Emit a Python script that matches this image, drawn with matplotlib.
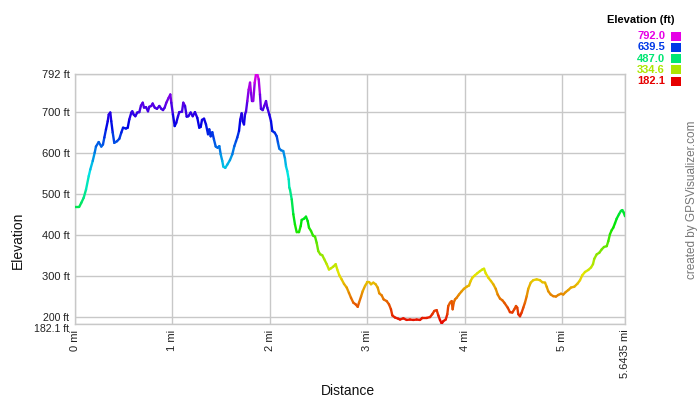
import colorsys
import numpy as np
import matplotlib
matplotlib.use("Agg")
import matplotlib.pyplot as plt
from matplotlib.collections import LineCollection
from matplotlib.patches import Rectangle

plt.rcParams['font.family'] = ['Liberation Sans', 'DejaVu Sans']

# ---------------- data ----------------
distance_mi = [
    0.000, 0.044, 0.065, 0.089, 0.113, 0.141, 0.157, 0.182, 0.202, 0.215,
    0.243, 0.270, 0.287, 0.301, 0.318, 0.336, 0.346, 0.362, 0.372, 0.387,
    0.403, 0.431, 0.455, 0.475, 0.493, 0.523, 0.541, 0.557, 0.578, 0.588,
    0.602, 0.619, 0.639, 0.660, 0.677, 0.695, 0.708, 0.729, 0.749, 0.762,
    0.783, 0.797, 0.818, 0.841, 0.865, 0.886, 0.903, 0.920, 0.937, 0.961,
    0.978, 0.988, 1.005, 1.023, 1.039, 1.057, 1.070, 1.098, 1.111, 1.129,
    1.146, 1.163, 1.187, 1.208, 1.231, 1.255, 1.275, 1.290, 1.303, 1.324,
    1.344, 1.365, 1.378, 1.392, 1.409, 1.426, 1.444, 1.464, 1.481, 1.495,
    1.511, 1.522, 1.542, 1.563, 1.590, 1.614, 1.635, 1.652, 1.665, 1.683,
    1.696, 1.710, 1.721, 1.734, 1.744, 1.755, 1.768, 1.782, 1.796, 1.806,
    1.816, 1.829, 1.844, 1.857, 1.871, 1.885, 1.898, 1.908, 1.926, 1.942,
    1.960, 1.973, 1.994, 2.011, 2.024, 2.049, 2.070, 2.083, 2.096, 2.114,
    2.137, 2.155, 2.165, 2.178, 2.193, 2.199, 2.206, 2.224, 2.240, 2.257,
    2.275, 2.298, 2.316, 2.326, 2.350, 2.370, 2.388, 2.401, 2.422, 2.442,
    2.463, 2.480, 2.496, 2.517, 2.537, 2.558, 2.583, 2.606, 2.627, 2.650,
    2.675, 2.691, 2.712, 2.736, 2.760, 2.788, 2.811, 2.832, 2.856, 2.880,
    2.901, 2.914, 2.935, 2.952, 2.976, 2.999, 3.020, 3.037, 3.061, 3.085,
    3.106, 3.122, 3.147, 3.167, 3.198, 3.222, 3.242, 3.256, 3.283, 3.317,
    3.335, 3.369, 3.403, 3.437, 3.471, 3.506, 3.540, 3.564, 3.609, 3.643,
    3.666, 3.687, 3.711, 3.728, 3.745, 3.763, 3.779, 3.804, 3.820, 3.830,
    3.848, 3.865, 3.875, 3.886, 3.899, 3.916, 3.940, 3.968, 3.991, 4.019,
    4.043, 4.060, 4.077, 4.104, 4.128, 4.155, 4.179, 4.197, 4.214, 4.241,
    4.268, 4.292, 4.317, 4.337, 4.361, 4.385, 4.405, 4.440, 4.463, 4.487,
    4.508, 4.525, 4.538, 4.549, 4.566, 4.583, 4.600, 4.617, 4.635, 4.651,
    4.676, 4.702, 4.737, 4.771, 4.795, 4.823, 4.840, 4.856, 4.881, 4.907,
    4.935, 4.959, 4.987, 5.010, 5.035, 5.062, 5.089, 5.123, 5.158, 5.182,
    5.205, 5.233, 5.267, 5.295, 5.315, 5.328, 5.353, 5.380, 5.404, 5.428,
    5.456, 5.472, 5.489, 5.507, 5.523, 5.541, 5.558, 5.582, 5.602, 5.616,
    5.630, 5.6435,
]
elevation_ft = [
    468, 468, 478, 490, 510, 543, 559, 580, 600, 615,
    626, 615, 620, 637, 657, 677, 693, 698, 677, 649,
    624, 628, 634, 649, 661, 659, 661, 681, 698, 701,
    693, 689, 698, 699, 715, 722, 710, 711, 701, 712,
    714, 720, 710, 707, 714, 707, 704, 710, 722, 734,
    742, 722, 693, 665, 673, 689, 699, 700, 722, 714,
    688, 689, 698, 689, 699, 685, 661, 663, 680, 683,
    669, 645, 657, 640, 650, 632, 615, 612, 616, 596,
    580, 566, 563, 571, 582, 596, 616, 628, 637, 653,
    681, 696, 677, 669, 693, 701, 726, 754, 771, 746,
    726, 726, 771, 791, 791, 779, 742, 707, 704, 714,
    726, 710, 693, 677, 653, 649, 640, 624, 610, 606,
    604, 585, 567, 555, 535, 515, 510, 486, 450, 425,
    406, 406, 421, 436, 439, 444, 433, 417, 409, 398,
    395, 380, 360, 352, 350, 340, 328, 315, 318, 322,
    328, 315, 301, 291, 280, 271, 258, 246, 234, 230,
    224, 234, 249, 262, 275, 284, 284, 279, 283, 279,
    271, 257, 252, 242, 238, 230, 218, 203, 198, 195,
    193, 196, 192, 193, 192, 193, 192, 197, 197, 199,
    206, 214, 216, 203, 192, 183, 189, 193, 206, 226,
    234, 238, 218, 234, 242, 246, 254, 262, 268, 273,
    276, 287, 295, 301, 306, 311, 315, 317, 306, 295,
    287, 279, 268, 254, 244, 240, 234, 222, 211, 210,
    218, 226, 222, 206, 201, 210, 222, 234, 250, 268,
    283, 289, 291, 289, 284, 283, 273, 262, 254, 250,
    249, 253, 256, 254, 260, 265, 271, 273, 281, 289,
    301, 309, 314, 320, 328, 341, 352, 356, 364, 370,
    372, 384, 401, 411, 417, 428, 439, 450, 458, 460,
    454, 445,
]

ytick_vals = [182.1, 200, 300, 400, 500, 600, 700, 792]
ytick_labels = ["182.1 ft", "200 ft", "300 ft", "400 ft", "500 ft",
                "600 ft", "700 ft", "792 ft"]
xtick_vals = [0, 1, 2, 3, 4, 5, 5.6435]
xtick_labels = ["0 mi", "1 mi", "2 mi", "3 mi", "4 mi", "5 mi", "5.6435 mi"]
legend_vals = [792.0, 639.5, 487.0, 334.6, 182.1]

ELEV_MIN, ELEV_MAX = 182.1, 792.0
DIST_MAX = 5.6435


def elev_color(e):
    t = (e - ELEV_MIN) / (ELEV_MAX - ELEV_MIN)
    t = min(max(t, 0.0), 1.0)
    return colorsys.hsv_to_rgb(t * 300.0 / 360.0, 1.0, 0.9)


W, H = 700, 400
fig = plt.figure(figsize=(W / 100, H / 100), dpi=100)
fig.patch.set_facecolor('white')

left, right, top, bottom = 75, 625, 74, 324
ax = fig.add_axes([left / W, 1 - bottom / H, (right - left) / W, (bottom - top) / H])
ax.set_xlim(0, DIST_MAX)
ax.set_ylim(ELEV_MIN, ELEV_MAX)

grid_c = '#c8c8c8'
ax.set_xticks(xtick_vals)
ax.set_xticklabels(xtick_labels, rotation=90, fontsize=8, color='#222222')
ax.set_yticks(ytick_vals)
ax.set_yticklabels(ytick_labels, fontsize=8, color='#222222')
ax.tick_params(axis='both', length=0, pad=4)
ax.grid(True, color=grid_c, lw=1)
for sp in ax.spines.values():
    sp.set_color(grid_c)
    sp.set_linewidth(1)
ax.set_axisbelow(True)
# nudge the two bottom labels apart slightly, as in the reference
ylabs = ax.get_yticklabels()
ylabs[0].set_va('top')
ylabs[0].set_y(ELEV_MIN)
ylabs[0].set_fontsize(7.6)
ylabs[1].set_fontsize(7.6)

x = np.asarray(distance_mi)
y = np.asarray(elevation_ft, dtype=float)
pts = np.column_stack([x, y]).reshape(-1, 1, 2)
segs = np.concatenate([pts[:-1], pts[1:]], axis=1)
cols = [elev_color((y[i] + y[i + 1]) / 2) for i in range(len(y) - 1)]
lc = LineCollection(segs, colors=cols, linewidths=1.7, capstyle='round',
                    joinstyle='round', zorder=3)
ax.add_collection(lc)

# axis titles
fig.text(18 / W, 1 - 240 / H, "Elevation", rotation=90, ha='center', va='center',
         fontsize=10, color='#111111')
fig.text(348 / W, 1 - 391 / H, "Distance", ha='center', va='center',
         fontsize=10, color='#111111')

# legend
fig.text(640.5 / W, 1 - 20 / H, "Elevation (ft)", ha='center', va='center',
         fontsize=8, fontweight='bold', color='#000000')
leg_y = [36, 47.3, 58.6, 69.9, 81.2]
for v, yy in zip(legend_vals, leg_y):
    c = elev_color(v)
    fig.text(665 / W, 1 - yy / H, f"{v:.1f}", ha='right', va='center',
             fontsize=8, fontweight='bold', color=c)
    fig.patches.append(Rectangle((671 / W, 1 - (yy + 4.5) / H), 10 / W, 9 / H,
                                 transform=fig.transFigure, facecolor=c,
                                 edgecolor='none'))

fig.text(692 / W, 1 - 200 / H, "created by GPSVisualizer.com", rotation=90,
         ha='center', va='center', fontsize=8.5, color='#777777')

fig.savefig("out.png", dpi=100)
